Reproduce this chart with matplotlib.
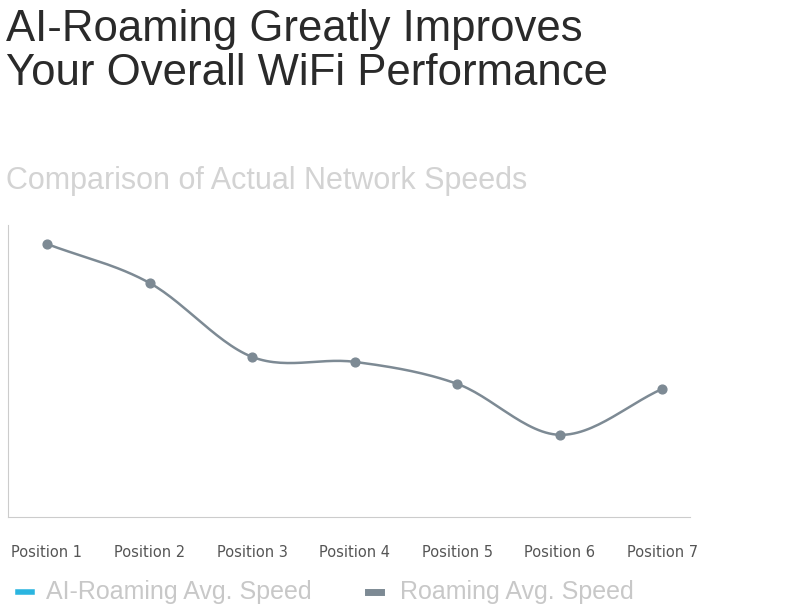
import matplotlib.pyplot as plt
import numpy as np

positions = ["Position 1", "Position 2", "Position 3", "Position 4",
             "Position 5", "Position 6", "Position 7"]
roaming_speed = [273, 234, 160, 155, 133, 82, 128]


def catmull_rom(xs, ys, n=30):
    # smooth line through the points, like the original chart
    px = np.concatenate([[2 * xs[0] - xs[1]], xs, [2 * xs[-1] - xs[-2]]])
    py = np.concatenate([[2 * ys[0] - ys[1]], ys, [2 * ys[-1] - ys[-2]]])
    ox, oy = [], []
    for i in range(1, len(px) - 2):
        t = np.linspace(0, 1, n)
        for arr, out in ((px, ox), (py, oy)):
            p0, p1, p2, p3 = arr[i - 1], arr[i], arr[i + 1], arr[i + 2]
            out.extend(0.5 * (2 * p1 + (-p0 + p2) * t
                              + (2 * p0 - 5 * p1 + 4 * p2 - p3) * t ** 2
                              + (-p0 + 3 * p1 - 3 * p2 + p3) * t ** 3))
    return ox, oy


fig = plt.figure(figsize=(8, 6.13), dpi=100)
fig.text(0.008, 0.985, "AI-Roaming Greatly Improves\nYour Overall WiFi Performance",
         fontsize=31.5, color="#2a2a2a", va="top", linespacing=1.1,
         family="Liberation Sans")
fig.text(0.008, 0.68, "Comparison of Actual Network Speeds", fontsize=22,
         color="#d3d3d3", va="bottom", family="Liberation Sans")

ax = fig.add_axes([0.01, 0.157, 0.8525, 0.476])
x = np.arange(len(positions))
sx, sy = catmull_rom(x.astype(float), np.array(roaming_speed, float))
ax.plot(sx, sy, color="#7d8a94", lw=1.8)
ax.scatter(x, roaming_speed, color="#7d8a94", s=40, zorder=3)
ax.set_xlim(-0.38, 6.27)
ax.set_ylim(0, 292)
ax.set_xticks(x)
ax.set_xticklabels(positions, fontsize=10.5, color="#555555")
ax.tick_params(length=0, pad=20)
ax.set_yticks([])
for s in ("top", "right"):
    ax.spines[s].set_visible(False)
ax.spines["left"].set_color("#cccccc")
ax.spines["bottom"].set_color("#cccccc")

fig.add_artist(plt.Line2D([0.022, 0.04], [0.034, 0.034], color="#2bb5e0", lw=4))
fig.text(0.058, 0.034, "AI-Roaming Avg. Speed", fontsize=18, color="#c8c8c8",
         va="center", family="Liberation Sans")
fig.add_artist(plt.Line2D([0.46, 0.476], [0.034, 0.034], color="#7d8a94", lw=5))
fig.text(0.5, 0.034, "Roaming Avg. Speed", fontsize=18, color="#c8c8c8",
         va="center", family="Liberation Sans")

fig.savefig("out.png", dpi=100)
